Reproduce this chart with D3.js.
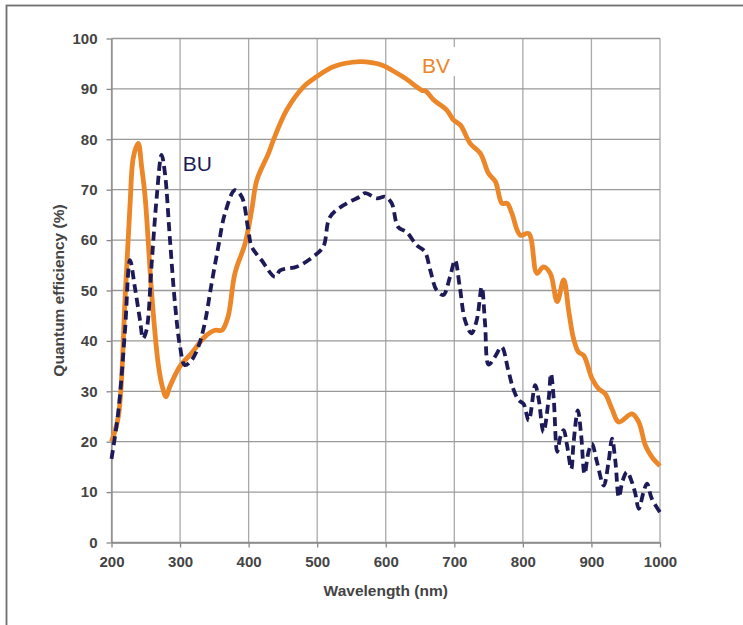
<!DOCTYPE html>
<html>
<head>
<meta charset="utf-8">
<title>Quantum efficiency</title>
<script src="https://cdn.jsdelivr.net/npm/d3@7"></script>
<style>
body{
  margin:0;
  background:#fff;
  font-family:"Liberation Sans", Arial, sans-serif}

svg{
  display:block}

.tick text{
  font:bold 15px "Liberation Sans", Arial, sans-serif;
  fill:#444}

.axis-title{
  font:bold 15.5px "Liberation Sans", Arial, sans-serif;
  fill:#444}

.grid line{
  stroke:#a9a9a9;
  stroke-width:1.3}
</style>
</head>
<body>
<script>
// Series data
const bvWavelength = [200, 210, 220, 227, 232, 239, 244, 249, 259, 268, 274, 279.5, 285, 300, 317, 336, 351, 361, 370, 380, 395, 404.5, 412, 429, 436, 455.5, 480, 499, 523.5, 562, 580, 595, 609, 628.5, 653, 658, 670, 689, 699, 709, 723, 738, 750, 760, 769.5, 777, 784, 796, 808.5, 820.5, 830, 840, 850, 859.5, 867, 874, 881, 888.7, 901, 910.6, 920, 930, 939.8, 959, 969, 978.6, 988, 1000]
const bvEfficiency = [20, 25, 49, 67, 76.5, 79.2, 74.5, 68.6, 48.7, 35.6, 31, 28.9, 30.9, 35, 37.6, 40.8, 42.1, 42.1, 44.8, 53.4, 59.4, 66, 71.9, 77.2, 79.8, 85.8, 90.4, 92.4, 94.4, 95.4, 95.2, 94.7, 93.7, 92.1, 89.7, 89.6, 87.8, 85.8, 83.8, 82.8, 79.2, 77.2, 73.2, 71.6, 67.3, 67.3, 65.3, 61, 61.3, 53.4, 54.7, 53.4, 47.8, 52.1, 45.8, 40.4, 37.8, 37.1, 32.5, 30.5, 29.5, 26.5, 23.9, 25.5, 23.9, 19.3, 17, 15.2]

const buWavelength = [200, 210, 219.7, 227, 234, 241.6, 246, 251, 258.6, 266, 273, 278, 285, 292.6, 300, 307, 317, 326.6, 336, 346, 355.8, 365.5, 380, 390, 399.5, 404.5, 419, 438.5, 446, 470, 494, 509, 518.7, 543, 562.5, 570, 587, 599, 608.7, 618, 630.5, 645, 657, 665, 674, 684, 693.7, 701, 708, 715.6, 725, 732.7, 740, 744.8, 750, 759, 769, 778.7, 786, 794, 801, 808.5, 818, 823, 830, 837.6, 841, 845, 850, 854.6, 859.5, 864.4, 870.6, 874, 880.2, 885, 890, 895.8, 900.8, 908, 918, 925, 930, 935, 940, 945.6, 951.8, 959, 964, 969, 976, 981, 988, 1000]
const buEfficiency = [16.6, 26, 42.1, 56, 50.7, 44.1, 40.5, 42.1, 55.4, 68.6, 76.9, 73.2, 60.6, 47.4, 38.8, 35.2, 36.2, 38.8, 43.5, 51.4, 58.7, 65.3, 69.9, 68.6, 62, 58.7, 56, 52.7, 54, 54.7, 56.7, 58.7, 64.6, 67.3, 68.6, 69.3, 68.3, 68.6, 67.3, 62.6, 61.6, 59, 57.7, 54, 50.1, 49.1, 52.7, 56, 50.7, 44.1, 41.5, 44.1, 50.7, 43.5, 35.3, 36.8, 38.8, 34.2, 30.5, 28.2, 27.5, 24.2, 31.2, 28.5, 21.9, 28.5, 33.5, 28.5, 18, 20.9, 22.3, 19.3, 14.6, 19.9, 26.2, 21.3, 13.6, 18, 19.6, 16, 11.3, 16, 20.6, 16, 9, 12.3, 14, 12, 9.7, 6.7, 10, 11.7, 8.7, 6]

const xTicks = [200, 300, 400, 500, 600, 700, 800, 900, 1000]
const yTicks = [0, 10, 20, 30, 40, 50, 60, 70, 80, 90, 100]

const seriesNames = ['BV', 'BU']

// Layout
const W = 743, H = 625
const margin = { top: 38.5, right: 83, bottom: 82.5, left: 111.5 }
const width = W - margin.left - margin.right
const height = H - margin.top - margin.bottom

const root = d3.select('body')
  .append('svg')
    .attr('width', W)
    .attr('height', H)

// outer frame (only top/left edges fall inside the picture)
root.append('rect')
    .attr('x', 6.5)
    .attr('y', 5.5)
    .attr('width', 900)
    .attr('height', 900)
    .style('fill', 'none')
    .style('stroke', '#6f6f6f')
    .style('stroke-width', 1.8)

const svg = root.append('g')
    .attr('transform', `translate(${margin.left}, ${margin.top})`)

// Scales
const x = d3.scaleLinear().domain([200, 1000]).range([0, width])
const y = d3.scaleLinear().domain([0, 100]).range([height, 0])

// Grid
svg.append('g')
    .attr('class', 'grid')
  .selectAll('line.v')
  .data(xTicks)
  .enter().append('line')
    .attr('x1', d => x(d)).attr('x2', d => x(d))
    .attr('y1', 0).attr('y2', height)

svg.append('g')
    .attr('class', 'grid')
  .selectAll('line.h')
  .data(yTicks)
  .enter().append('line')
    .attr('x1', 0).attr('x2', width)
    .attr('y1', d => y(d)).attr('y2', d => y(d))
    .style('stroke', '#999')

// Axes
const xAxis = svg.append('g')
    .attr('transform', `translate(0, ${height})`)
    .call(d3.axisBottom(x).tickValues(xTicks).tickFormat(d3.format('d'))
      .tickSize(5).tickPadding(9).tickSizeOuter(0))
xAxis.select('.domain').style('stroke', '#888').style('stroke-width', 1.3)
xAxis.selectAll('.tick line').style('stroke', '#888').style('stroke-width', 1.3)

const yAxis = svg.append('g')
    .call(d3.axisLeft(y).tickValues(yTicks).tickFormat(d3.format('d'))
      .tickSize(5).tickPadding(9).tickSizeOuter(0))
yAxis.select('.domain').style('stroke', '#888').style('stroke-width', 1.3)
yAxis.selectAll('.tick line').style('stroke', '#888').style('stroke-width', 1.3)

// Axis titles
svg.append('text')
    .attr('class', 'axis-title')
    .attr('x', width / 2)
    .attr('y', height + 53)
    .style('text-anchor', 'middle')
    .text('Wavelength (nm)')

svg.append('text')
    .attr('class', 'axis-title')
    .attr('transform', 'rotate(-90)')
    .attr('x', -height / 2)
    .attr('y', -48)
    .style('text-anchor', 'middle')
    .text('Quantum efficiency (%)')

// Lines
const line = d3.line()
    .x(d => x(d[0]))
    .y(d => y(d[1]))
    .curve(d3.curveCatmullRom.alpha(0.5))

const bvData = d3.zip(bvWavelength, bvEfficiency)
const buData = d3.zip(buWavelength, buEfficiency)

svg.append('path')
    .datum(bvData)
    .attr('d', line)
    .style('fill', 'none')
    .style('stroke', '#ec8729')
    .style('stroke-width', 4.8)
    .style('stroke-linejoin', 'round')

svg.append('path')
    .datum(buData)
    .attr('d', line)
    .style('fill', 'none')
    .style('stroke', '#1d1a58')
    .style('stroke-width', 3.8)
    .style('stroke-dasharray', '9,5')

// Series labels
svg.append('rect')
    .attr('x', x(653) - 5)
    .attr('y', y(98.3))
    .attr('width', 42)
    .attr('height', 29)
    .style('fill', '#fff')

svg.append('text')
    .attr('x', x(653))
    .attr('y', y(93.2))
    .style('font', '21px "Liberation Sans", Arial, sans-serif')
    .style('fill', '#ec8729')
    .text(seriesNames[0])

svg.append('text')
    .attr('x', x(304))
    .attr('y', y(73.7))
    .style('font', '21px "Liberation Sans", Arial, sans-serif')
    .style('fill', '#1d1a58')
    .text(seriesNames[1])
</script>
</body>
</html>
